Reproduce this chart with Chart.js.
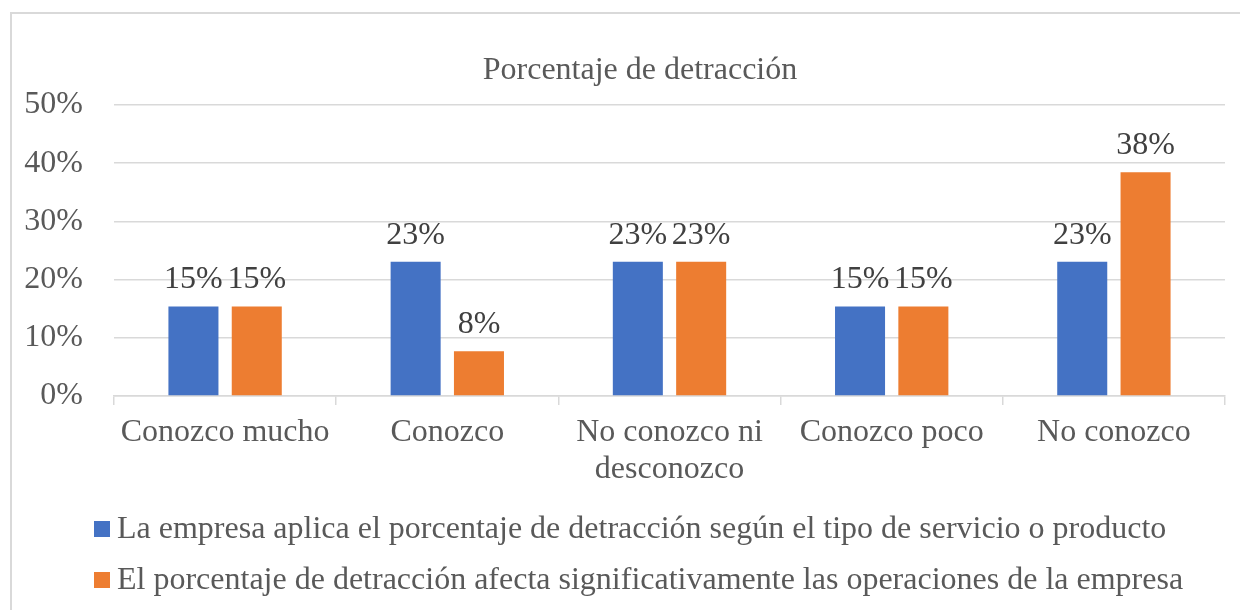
<!DOCTYPE html>
<html>
<head>
<meta charset="utf-8">
<script src="https://cdn.jsdelivr.net/npm/chart.js@4/dist/chart.umd.min.js"></script>
<style>
  body { margin: 0; background: #fff; }
  #chart { display: block; }
</style>
</head>
<body>
<canvas id="chart" width="1240" height="610"></canvas>
<script>
    const categories = ['Conozco mucho', 'Conozco', ['No conozco ni', 'desconozco'], 'Conozco poco', 'No conozco'];
    const seriesNames = [
        'La empresa aplica el porcentaje de detracción según el tipo de servicio o producto',
        'El porcentaje de detracción afecta significativamente las operaciones de la empresa'
    ];
    const aplicaValues = [15.38, 23.08, 23.08, 15.38, 23.08];
    const afectaValues = [15.38, 7.69, 23.08, 15.38, 38.46];
    const yTicks = [0, 10, 20, 30, 40, 50];

    const FONT = '"Liberation Serif", "Times New Roman", serif';
    const SIZE = 32;
    const GREY = '#595959';
    const GRID = '#d9d9d9';

    // Outer frame around the chart
    const framePlugin = {
        id: 'frame',
        beforeDraw(chart) {
            const ctx = chart.ctx;
            ctx.save();
            ctx.strokeStyle = GRID;
            ctx.lineWidth = 2;
            ctx.strokeRect(11, 13, chart.width + 20, chart.height + 20);
            ctx.restore();
        }
    };

    // Value labels above each bar
    const valueLabels = {
        id: 'valueLabels',
        afterDatasetsDraw(chart) {
            const ctx = chart.ctx;
            ctx.save();
            ctx.font = SIZE + 'px ' + FONT;
            ctx.fillStyle = '#404040';
            ctx.textAlign = 'center';
            ctx.textBaseline = 'alphabetic';
            chart.data.datasets.forEach((ds, i) => {
                chart.getDatasetMeta(i).data.forEach((bar, j) => {
                    ctx.fillText(Math.round(ds.data[j]) + '%', bar.x, bar.y - 18);
                });
            });
            ctx.restore();
        }
    };

    // Legend drawn below the axis, left aligned
    const bottomLegend = {
        id: 'bottomLegend',
        afterDraw(chart) {
            const ctx = chart.ctx;
            const area = chart.chartArea;
            ctx.save();
            ctx.font = SIZE + 'px ' + FONT;
            ctx.textBaseline = 'middle';
            ctx.textAlign = 'left';
            chart.data.datasets.forEach((ds, i) => {
                const y = area.bottom + 133 + i * 51;
                ctx.fillStyle = ds.backgroundColor;
                ctx.fillRect(area.left - 20, y - 8, 16, 16);
                ctx.fillStyle = GREY;
                ctx.fillText(ds.label, area.left + 3, y + 1);
            });
            ctx.restore();
        }
    };

    const ctx = document.getElementById('chart').getContext('2d');
    const chart = new Chart(ctx, {
        type: 'bar',
        data: {
            labels: categories,
            datasets: [{
                label: seriesNames[0],
                data: aplicaValues,
                backgroundColor: '#4472C4'
            }, {
                label: seriesNames[1],
                data: afectaValues,
                backgroundColor: '#ED7D31'
            }]
        },
        options: {
            responsive: false,
            devicePixelRatio: 1,
            animation: false,
            categoryPercentage: 0.57,
            barPercentage: 0.79,
            layout: {
                // the original frame runs past the right edge, so the title sits right of centre
                padding: { left: 0, right: -40, top: 0, bottom: 114 }
            },
            scales: {
                x: {
                    grid: {
                        display: true,
                        drawOnChartArea: false,
                        drawTicks: true,
                        tickLength: 9,
                        color: GRID,
                        lineWidth: 1.5
                    },
                    border: { display: true, color: GRID, width: 1.5 },
                    ticks: {
                        color: GREY,
                        font: { family: FONT, size: SIZE, lineHeight: 1.15 },
                        padding: 9,
                        maxRotation: 0,
                        minRotation: 0,
                        autoSkip: false
                    },
                    afterFit(scale) { scale.height = 100; }
                },
                y: {
                    min: yTicks[0],
                    max: yTicks[yTicks.length - 1],
                    afterBuildTicks(scale) {
                        scale.ticks = yTicks.map(v => ({ value: v }));
                    },
                    grid: {
                        color: GRID,
                        lineWidth: 1.5,
                        drawTicks: false
                    },
                    border: { display: false },
                    ticks: {
                        color: GREY,
                        font: { family: FONT, size: SIZE },
                        padding: 31,
                        callback: v => v + '%'
                    },
                    afterFit(scale) { scale.width = 114; }
                },
                // empty spacer on the right
                yRight: {
                    position: 'right',
                    grid: { drawOnChartArea: false, drawTicks: false },
                    border: { display: false },
                    ticks: { display: false },
                    afterFit(scale) { scale.width = 55; }
                }
            },
            plugins: {
                legend: { display: false },
                tooltip: { enabled: false },
                title: {
                    display: true,
                    text: 'Porcentaje de detracción',
                    color: GREY,
                    font: { family: FONT, size: SIZE, weight: 'normal', lineHeight: 1.2 },
                    padding: { top: 51, bottom: 15.6 }
                }
            }
        },
        plugins: [framePlugin, valueLabels, bottomLegend]
    });
</script>
</body>
</html>
